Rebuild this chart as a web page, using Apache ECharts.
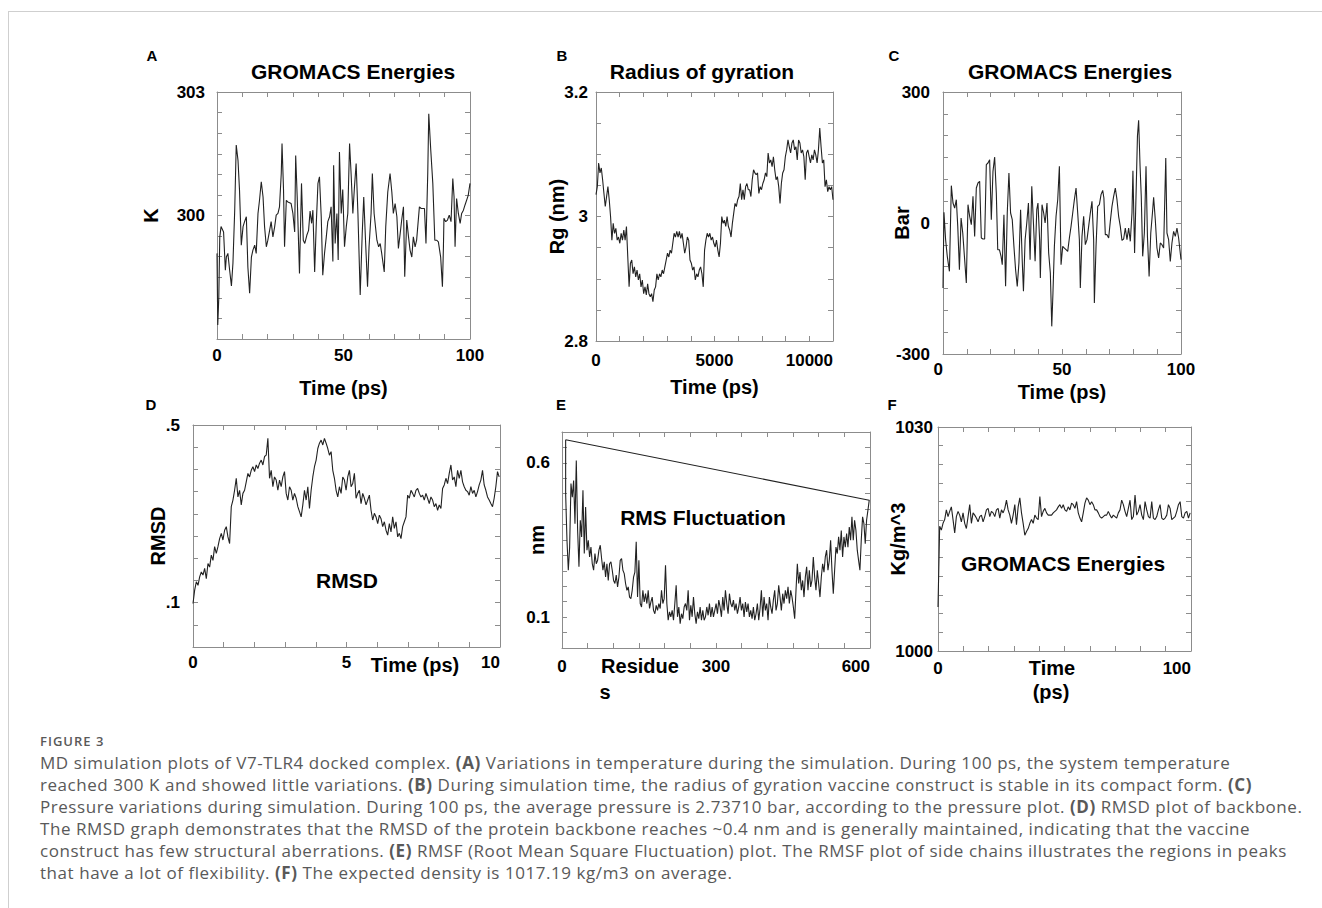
<!DOCTYPE html>
<html>
<head>
<meta charset="utf-8">
<title>MD simulation plots of V7-TLR4 docked complex</title>
<script src="https://cdn.jsdelivr.net/npm/echarts@6/dist/echarts.min.js"></script>
<style>
  html, body { margin: 0; padding: 0; background: #fff; }
  body { width: 1322px; height: 908px; position: relative; overflow: hidden; }
  .frame { position: absolute; left: 8px; top: 11px; width: 1320px; height: 900px;
    border-top: 1px solid #cfcfcf; border-left: 1px solid #cfcfcf; }
  #chart { position: absolute; left: 0; top: 0; width: 1322px; height: 710px; }
  .caption { position: absolute; left: 40px; top: 732px; color: #595959;
    font-family: "Open Sans", sans-serif; font-size: 17px; letter-spacing: 0.55px; line-height: 22px; white-space: nowrap; }
  .caption .fig { font-size: 13px; font-weight: 600; line-height: 18px; margin-bottom: 2px; letter-spacing: 1px; }
  .caption b { font-weight: 700; }
</style>
</head>
<body>
<div class="frame"></div>
<div id="chart"></div>
<div class="caption">
  <div class="fig">FIGURE 3</div>
  <div>MD simulation plots of V7-TLR4 docked complex. <b>(A)</b> Variations in temperature during the simulation. During 100 ps, the system temperature</div>
  <div>reached 300 K and showed little variations. <b>(B)</b> During simulation time, the radius of gyration vaccine construct is stable in its compact form. <b>(C)</b></div>
  <div>Pressure variations during simulation. During 100 ps, the average pressure is 2.73710 bar, according to the pressure plot. <b>(D)</b> RMSD plot of backbone.</div>
  <div>The RMSD graph demonstrates that the RMSD of the protein backbone reaches ~0.4 nm and is generally maintained, indicating that the vaccine</div>
  <div>construct has few structural aberrations. <b>(E)</b> RMSF (Root Mean Square Fluctuation) plot. The RMSF plot of side chains illustrates the regions in peaks</div>
  <div>that have a lot of flexibility. <b>(F)</b> The expected density is 1017.19 kg/m3 on average.</div>
</div>
<script>
const FONT = '"Liberation Sans", Arial, Helvetica, sans-serif';
const FRAME = '#8c8c8c';
const LINE = '#222';

// A - temperature (K) vs time (ps)
const tempTime = [0,0.3,0.7,1.1,1.6,2.0,2.6,3.3,3.7,4.3,5.0,5.7,6.3,7.0,7.6,8.3,8.9,9.6,10.3,10.9,
  11.6,12.2,12.9,13.6,14.2,14.9,15.5,16.2,16.8,17.5,18.2,18.8,19.5,20.1,20.8,21.4,22.1,22.8,23.4,24.1,
  24.7,25.4,25.7,26.3,26.7,27.4,28.0,28.7,29.3,30.0,30.7,31.1,31.7,32.6,33.4,34.1,34.7,35.5,36.2,36.8,
  37.4,37.9,38.6,39.2,39.9,40.5,41.2,41.8,42.5,43.2,43.8,44.5,45.1,45.8,46.1,46.7,47.4,47.9,48.4,49.1,
  49.7,50.4,51.1,51.7,52.4,53.0,53.7,54.3,55.0,55.7,56.6,57.4,58.0,58.7,59.5,60.1,60.9,61.4,62.1,63.2,
  63.9,64.5,65.1,66.1,66.7,67.5,68.4,69.1,69.7,70.4,71.1,71.7,72.4,73.0,73.7,74.2,75.0,75.7,76.3,77.0,
  77.6,78.3,78.9,80.0,80.7,82.0,82.6,83.3,83.7,84.5,85.3,86.1,86.8,87.5,88.4,89.1,89.5,89.7,90.4,91.1,
  91.8,92.5,93.2,93.7,94.1,94.7,95.4,96.1,96.7,97.4,98.0,99.3,100];
const tempK = [299.08,297.34,297.99,299.48,299.73,299.68,299.6,298.67,298.99,299.08,
  298.67,298.29,298.84,300.13,301.71,301.34,300.61,299.28,299.73,299.85,
  299.97,298.75,298.11,298.99,299.16,299.28,299.08,300.05,300.37,300.82,
  300.45,299.73,299.24,299.4,299.64,299.85,299.48,299.73,300.01,300.05,
  300.21,301.02,301.75,300.61,299.24,300.37,300.33,300.31,300.29,300.05,
  299.6,301.46,300.45,298.59,300.78,299.4,299.32,299.52,299.64,300.11,
  299.81,300.13,298.63,299.73,300.78,300.94,299.97,298.55,299.08,299.48,
  299.85,299.97,300.21,298.88,301.22,299.32,300.05,298.92,301.54,300.05,
  300.63,299.24,299.73,300.05,301.75,301.02,300.05,300.66,301.26,300.05,
  298.07,299.56,300.45,299.4,298.27,299.24,300.05,301.02,300.05,299.4,
  299.24,299.32,299.08,298.63,299.73,300.57,301.02,300.57,300.05,300.29,
  299.97,299.2,299.56,299.89,300.21,298.51,299.89,299.48,299.16,298.99,
  299.48,299.24,299.4,300.21,300.17,300.17,299.32,301.02,302.47,301.58,
  300.78,299.4,299.4,299.36,298.99,298.27,299.24,299.93,299.85,299.89,
  300.01,299.85,300.9,300.45,299.24,300.41,300.05,299.81,300.05,300.13,
  300.25,300.49,300.78];

// B - radius of gyration (nm), one frame every rgStep ps
const rgStep = 10000 / 179;
const rgNm = [3.035,3.048,3.086,3.070,3.078,3.059,3.037,3.016,3.032,3.048,
  3.027,3.000,2.962,2.989,2.973,2.981,2.962,2.967,2.957,2.973,
  2.962,2.978,2.962,2.984,2.935,2.887,2.925,2.930,2.908,2.919,
  2.903,2.914,2.898,2.908,2.887,2.898,2.876,2.887,2.874,2.892,
  2.876,2.871,2.876,2.863,2.882,2.887,2.908,2.898,2.908,2.903,
  2.914,2.908,2.919,2.930,2.941,2.935,2.946,2.941,2.957,2.973,
  2.967,2.976,2.967,2.976,2.965,2.973,2.957,2.941,2.951,2.967,
  2.962,2.930,2.925,2.914,2.919,2.898,2.908,2.903,2.914,2.919,
  2.908,2.887,2.946,2.962,2.973,2.967,2.973,2.962,2.967,2.957,
  2.951,2.962,2.946,2.935,2.957,3.000,2.989,2.994,2.984,3.000,
  2.984,2.978,2.967,2.989,3.005,3.021,3.016,3.027,3.032,3.053,
  3.027,3.043,3.027,3.048,3.053,3.043,3.043,3.032,3.059,3.075,
  3.070,3.067,3.070,3.037,3.048,3.043,3.053,3.059,3.070,3.064,
  3.102,3.086,3.091,3.080,3.096,3.075,3.059,3.064,3.048,3.021,
  3.053,3.070,3.075,3.096,3.107,3.123,3.112,3.102,3.118,3.123,
  3.107,3.112,3.091,3.123,3.118,3.102,3.107,3.096,3.059,3.102,
  3.107,3.096,3.086,3.099,3.091,3.107,3.099,3.086,3.107,3.142,
  3.112,3.086,3.091,3.048,3.059,3.040,3.048,3.043,3.048,3.027];

// C - pressure (bar) vs time (ps)
const presTime = [0,0.4,1.1,1.8,2.7,3.5,4.2,4.9,5.6,6.2,6.9,7.6,8.3,9.0,9.8,10.5,11.2,11.9,12.6,13.3,
  14.0,14.7,15.4,16.1,16.8,17.5,18.2,18.9,19.6,20.3,21.0,21.7,22.4,23.0,23.7,24.4,24.9,25.6,26.3,27.0,
  27.7,28.4,29.1,29.8,30.5,31.2,31.9,32.6,33.3,33.8,34.5,35.2,35.9,36.6,37.3,38.0,38.7,39.4,39.9,40.6,
  40.9,41.6,42.3,42.9,43.7,44.4,45.1,45.7,46.2,46.8,47.5,48.2,48.9,49.6,50.3,51.0,51.7,52.4,53.1,53.8,
  54.5,55.2,55.9,56.6,57.3,57.7,58.4,59.1,59.8,60.5,61.2,61.9,62.6,63.3,63.6,64.3,65.0,65.7,66.4,67.1,
  67.6,68.2,68.9,69.6,70.3,71.0,71.7,72.4,73.1,73.8,74.5,75.2,75.9,76.6,77.3,78.0,78.7,79.4,79.8,80.5,
  81.2,81.7,82.2,82.8,83.3,83.9,84.6,85.3,85.9,86.6,87.3,88.0,88.5,89.2,89.9,90.6,91.3,92.0,92.7,93.6,
  94.1,94.8,95.5,96.2,96.9,97.6,98.3,99.0,100];
const presBar = [-148.9,24.4,-38.2,-76.4,-110.7,85.5,45.8,34.3,53.4,-7.7,
  -106.9,11.4,-22.9,-76.4,-137.4,42.0,15.3,-3.8,61.1,-30.6,
  80.1,91.6,95.4,-34.4,-36.7,-36.7,133.6,137.4,145.0,7.6,
  118.3,151.1,68.7,-61.1,-61.1,-76.4,-95.4,19.1,-145.1,22.9,
  114.5,22.9,7.6,-53.5,-106.9,-145.1,-91.6,30.5,-87.8,-156.5,
  -38.2,0,45.8,-84.0,84.0,0,-87.8,30.5,45.8,-38.2,
  -126.0,42.0,22.9,0,45.8,-68.7,-114.5,-236.7,-160.3,-53.5,
  15.3,53.4,129.8,-95.4,-53.5,-57.3,-61.1,-64.9,-34.4,-7.7,
  22.9,53.4,80.1,22.9,-38.2,-148.9,-30.6,15.3,-49.6,-38.2,
  -7.7,22.9,49.6,-38.2,-183.2,-53.5,38.2,42.0,64.9,74.8,
  57.2,-26.7,-26.7,-34.4,3.8,38.2,61.1,80.1,53.4,15.3,
  -7.7,-39.7,-36.7,-11.5,-38.2,-11.5,-42.0,22.9,119.8,-68.7,
  84.0,198.5,235.1,129.8,61.1,-76.4,-22.9,129.8,-30.6,-122.2,
  -22.9,22.9,58.8,7.6,-57.3,-80.2,-45.8,-49.6,-57.3,148.8,
  -22.9,-38.2,-87.8,-45.8,-19.1,-30.6,-11.5,-34.4,-84.0];

// D - backbone RMSD (nm), one frame every rmsdStep ps
const rmsdStep = 0.0542;
const rmsdNm = [.098,.128,.147,.139,.158,.169,.162,.177,.154,.188,
  .180,.207,.195,.226,.211,.226,.244,.256,.241,.263,
  .271,.248,.233,.316,.331,.353,.380,.338,.353,.320,
  .346,.353,.372,.391,.383,.398,.406,.395,.410,.402,
  .414,.421,.410,.429,.432,.470,.380,.398,.361,.383,
  .376,.353,.376,.361,.383,.395,.346,.331,.361,.353,
  .331,.346,.335,.316,.305,.293,.320,.353,.331,.361,
  .312,.353,.383,.406,.421,.447,.459,.466,.455,.470,
  .459,.447,.432,.440,.398,.380,.353,.338,.361,.346,
  .383,.376,.353,.383,.398,.361,.368,.391,.335,.346,
  .353,.323,.346,.335,.320,.331,.342,.308,.286,.301,
  .293,.278,.297,.289,.271,.282,.263,.252,.278,.259,
  .293,.267,.282,.248,.256,.244,.271,.282,.293,.342,
  .335,.353,.346,.338,.353,.357,.346,.338,.342,.331,
  .346,.335,.323,.338,.331,.316,.323,.308,.320,.312,
  .357,.365,.380,.368,.391,.410,.376,.383,.361,.398,
  .380,.398,.372,.361,.353,.350,.342,.361,.346,.353,
  .338,.350,.365,.376,.398,.365,.353,.338,.331,.323,
  .316,.335,.361,.395,.383];

// E - RMSF (nm) per residue, sampled every rmsfStep residues from rmsfFirstRes
const rmsfFirstRes = 7.1;
const rmsfStep = 2.594;
const rmsfNm = [.500,.349,.252,.327,.533,.489,.543,.403,.608,.381,
  .263,.414,.360,.511,.306,.457,.317,.349,.295,.327,
  .273,.252,.306,.273,.284,.317,.333,.290,.252,.279,
  .230,.273,.219,.273,.279,.252,.219,.209,.236,.198,
  .230,.284,.290,.252,.241,.209,.187,.198,.165,.160,
  .187,.230,.246,.344,.165,.284,.144,.133,.187,.149,
  .176,.144,.187,.128,.149,.165,.122,.111,.138,.122,
  .144,.128,.187,.144,.160,.268,.144,.090,.117,.101,
  .122,.090,.144,.203,.101,.133,.079,.111,.095,.133,
  .144,.122,.187,.090,.138,.101,.165,.111,.079,.117,
  .095,.133,.090,.122,.090,.101,.133,.106,.144,.101,
  .133,.101,.122,.144,.111,.155,.133,.101,.165,.122,
  .187,.144,.111,.176,.144,.133,.155,.122,.144,.111,
  .133,.165,.122,.144,.101,.149,.117,.144,.101,.122,
  .095,.133,.090,.111,.144,.090,.128,.187,.101,.165,
  .122,.144,.090,.165,.133,.111,.155,.187,.122,.144,
  .203,.165,.122,.176,.144,.187,.160,.198,.144,.187,
  .165,.133,.095,.187,.273,.209,.246,.187,.219,.165,
  .230,.263,.187,.252,.198,.219,.295,.230,.187,.252,
  .209,.165,.230,.273,.246,.295,.317,.252,.284,.349,
  .252,.176,.252,.327,.306,.360,.317,.381,.295,.360,
  .327,.371,.327,.392,.349,.425,.349,.414,.381,.317,
  .284,.252,.349,.425,.403,.338,.414,.446,.479];
// the trace opens and closes at this point (residue, nm)
const rmsfLoop = [7.1, 0.675];

// F - density (kg/m^3), one frame every densStep ps
const densStep = 0.66;
const densKg = [1005.9,1016.7,1016.2,1017.1,1017.6,1018.9,1018.0,1018.7,1019.3,1017.6,
  1015.8,1018.0,1018.7,1018.2,1017.3,1018.5,1017.1,1016.4,1018.0,1019.6,
  1017.1,1018.5,1018.2,1017.8,1017.3,1018.0,1018.2,1017.3,1018.0,1018.9,
  1019.1,1018.0,1018.7,1018.5,1018.0,1018.9,1019.1,1017.8,1018.9,1018.5,
  1019.1,1020.2,1018.9,1018.2,1017.1,1018.2,1019.6,1016.9,1019.3,1020.5,
  1018.5,1017.1,1015.5,1016.0,1016.4,1017.1,1017.6,1017.1,1018.2,1017.8,
  1017.6,1020.7,1018.0,1018.7,1019.1,1018.5,1018.2,1018.2,1018.2,1018.5,
  1018.7,1018.9,1019.3,1019.6,1019.1,1019.6,1018.9,1018.7,1019.3,1018.9,
  1019.8,1019.6,1019.1,1020.0,1018.5,1017.8,1017.3,1018.5,1019.8,1020.5,
  1020.2,1019.6,1020.0,1019.6,1018.9,1018.9,1018.5,1018.0,1017.8,1018.0,
  1018.2,1018.2,1018.7,1018.2,1017.8,1018.2,1018.0,1017.8,1018.5,1018.9,
  1020.2,1019.6,1018.7,1018.0,1019.1,1020.2,1017.6,1018.0,1020.9,1018.2,
  1018.7,1019.6,1018.2,1017.6,1020.0,1018.9,1018.0,1017.8,1020.0,1017.8,
  1017.6,1018.0,1018.9,1019.6,1017.8,1017.6,1017.8,1018.2,1019.6,1019.1,
  1017.6,1017.8,1018.0,1018.7,1019.6,1020.0,1018.0,1017.8,1018.5,1018.7,
  1017.8,1018.5];

const pair = (xs, ys) => ys.map((v, i) => [xs[i], v]);
const stepped = (x0, dx, ys) => ys.map((v, i) => [x0 + dx * i, v]);
const plain = v => String(v);

// [min, max, interval, labelled values, label margin, extra label options]
const panels = [
  { box: { left: 217, top: 92, width: 253, height: 247 },
    x: [0, 100, 10, [0, 50, 100], 8], y: [297, 303, 0.5, [300, 303], 12],
    yName: 'K', yGap: 56, xName: 'Time (ps)', xGap: 39,
    data: pair(tempTime, tempK) },
  { box: { left: 596, top: 92, width: 237, height: 249 },
    x: [0, 10000, 1000, [0, 5000, 10000], 11, { alignMaxLabel: 'right' }], y: [2.8, 3.2, 0.05, [2.8, 3, 3.2], 8],
    yName: 'Rg (nm)', yGap: 29, xName: 'Time (ps)', xGap: 36,
    data: stepped(0, rgStep, rgNm) },
  { box: { left: 943, top: 92, width: 238, height: 262 },
    x: [0, 100, 10, [0, 50, 100], 7, { alignMinLabel: 'right' }], y: [-300, 300, 50, [-300, 0, 300], 13],
    yName: 'Bar', yGap: 31, xName: 'Time (ps)', xGap: 28,
    data: pair(presTime, presBar) },
  { box: { left: 193, top: 425, width: 307, height: 222 },
    x: [0, 10, 1, [0, 5, 10], 7, { alignMaxLabel: 'right' }],
    y: [0, 0.5, 0.05, [0.1, 0.5], 13, { formatter: v => v.toFixed(1).replace(/^0/, '') }],
    yName: 'RMSD', yGap: 25,
    data: stepped(0, rmsdStep, rmsdNm) },
  { box: { left: 562, top: 432, width: 308, height: 216 },
    x: [0, 600, 50, [0, 300, 600], 10, { alignMaxLabel: 'right' }], y: [0, 0.7, 0.05, [0.1, 0.6], 12],
    yName: 'nm', yGap: 15,
    data: [rmsfLoop].concat(stepped(rmsfFirstRes, rmsfStep, rmsfNm), [rmsfLoop]) },
  { box: { left: 938, top: 427, width: 253, height: 224 },
    x: [0, 100, 10, [0, 100], 9, { alignMaxLabel: 'right' }], y: [1000, 1030, 2.5, [1000, 1030], 5],
    yName: 'Kg/m^3', yGap: 30,
    data: stepped(0, densStep, densKg) }
];

const nameStyle = { fontSize: 20, fontWeight: 'bold', color: '#000', fontFamily: FONT };

function axes(dim, gridIndex, spec) {
  const [min, max, interval, labels, margin, extra] = spec;
  const base = {
    type: 'value', gridIndex, min, max, interval,
    splitLine: { show: false },
    axisLine: { show: true, onZero: false, lineStyle: { color: FRAME, width: 1 } },
    axisTick: { show: true, inside: true, length: 5, lineStyle: { color: FRAME, width: 1 } }
  };
  const main = Object.assign({}, base, {
    position: dim === 'x' ? 'bottom' : 'left',
    axisLabel: Object.assign({
      show: true, customValues: labels, margin, formatter: plain,
      fontSize: 17, fontWeight: 'bold', color: '#000', fontFamily: FONT
    }, extra || {})
  });
  const mirror = Object.assign({}, base, {
    position: dim === 'x' ? 'top' : 'right',
    axisLabel: { show: false }
  });
  return [main, mirror];
}

const xAxis = [], yAxis = [];
panels.forEach((p, i) => {
  const xs = axes('x', i, p.x);
  if (p.xName) {
    Object.assign(xs[0], { name: p.xName, nameLocation: 'middle', nameGap: p.xGap,
      nameMoveOverlap: false, nameTextStyle: nameStyle });
  }
  const ys = axes('y', i, p.y);
  Object.assign(ys[0], { name: p.yName, nameLocation: 'middle', nameRotate: 90, nameGap: p.yGap,
    nameMoveOverlap: false, nameTextStyle: nameStyle });
  xAxis.push(...xs);
  yAxis.push(...ys);
});

// free-standing texts: panel letters, titles, in-plot labels, split axis names
const labels = [
  ['A', 152, 55, 15], ['B', 562, 55, 15], ['C', 894, 55, 15],
  ['D', 151, 404, 15], ['E', 561, 404, 15], ['F', 892, 404, 15],
  ['GROMACS Energies', 353, 71, 21], ['Radius of gyration', 702, 71, 21], ['GROMACS Energies', 1070, 71, 21],
  ['RMSD', 347, 580, 21], ['RMS Fluctuation', 703, 517, 21], ['GROMACS Energies', 1063, 563, 21],
  ['Time (ps)', 415, 665, 20], ['Residue', 640, 666, 20], ['s', 605, 692, 20],
  ['Time', 1052, 668, 20], ['(ps)', 1051, 692, 20]
];

const chart = echarts.init(document.getElementById('chart'), null, { renderer: 'svg' });
chart.setOption({
  animation: false,
  backgroundColor: 'transparent',
  grid: panels.map(p => Object.assign({ containLabel: false }, p.box)),
  xAxis,
  yAxis,
  graphic: labels.map(([text, x, y, size]) => ({
    type: 'text', x, y, silent: true,
    style: { text, fontSize: size, fontWeight: 'bold', fontFamily: FONT, fill: '#000',
      align: 'center', verticalAlign: 'middle' }
  })),
  series: panels.map((p, i) => ({
    type: 'line',
    xAxisIndex: 2 * i,
    yAxisIndex: 2 * i,
    data: p.data,
    showSymbol: false,
    symbol: 'none',
    lineStyle: { color: LINE, width: 1.1 },
    silent: true
  }))
});
</script>
</body>
</html>
